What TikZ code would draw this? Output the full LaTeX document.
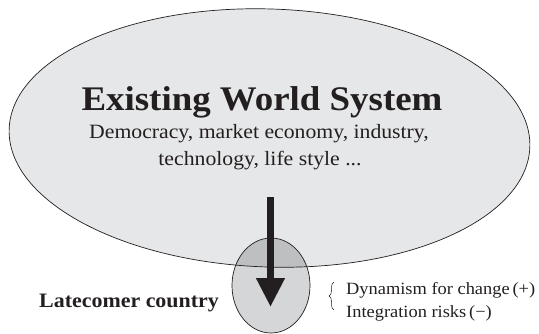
\documentclass[tikz,border=0pt]{standalone}
\usepackage{fontspec}
\setmainfont{Liberation Serif}[FakeStretch=1.07]
\usetikzlibrary{arrows.meta,decorations.pathreplacing}
\definecolor{bigfill}{RGB}{230,231,232}
\definecolor{smallfill}{RGB}{213,214,215}
\definecolor{overfill}{RGB}{190,191,192}
\definecolor{ink}{RGB}{35,31,32}
\tikzset{
  outline/.style={draw=ink, line width=0.7pt},
  txt/.style={inner sep=0pt, text=ink, anchor=base},
}
\begin{document}
\begin{tikzpicture}[x=1pt,y=-1pt]
\useasboundingbox (0,0) rectangle (539,333);
% big ellipse
\fill[bigfill] (269.5,138) ellipse[x radius=260.5, y radius=129, rotate=-2];
\fill[smallfill] (271,285.5) ellipse[x radius=39, y radius=47.5];
\begin{scope}
  \clip (269.5,138) ellipse[x radius=260.5, y radius=129, rotate=-2];
  \fill[overfill] (271,285.5) ellipse[x radius=39, y radius=47.5];
\end{scope}
\draw[outline] (269.5,138) ellipse[x radius=260.5, y radius=129, rotate=-2];
\draw[outline] (271,285.5) ellipse[x radius=39, y radius=47.5];
% texts
\node[txt] (title) at (262,110) {\fontsize{34.5}{40}\selectfont\bfseries Existing World System};
\node[txt] (sub1) at (259,138) {\fontsize{20.3}{24}\selectfont Democracy, market economy, industry,};
\node[txt] (sub2) at (260,165) {\fontsize{20.3}{24}\selectfont technology, life style ...};
\node[txt, anchor=base west] (late) at (39,307) {\fontsize{20.5}{24}\selectfont\bfseries Latecomer country};
\node[txt, anchor=base west] (dyn) at (346,294) {\fontsize{17.2}{20}\selectfont Dynamism for change\,(+)};
\node[txt, anchor=base west] (risk) at (346,317) {\fontsize{17.2}{20}\selectfont Integration risks\,(−)};
% arrow
\coordinate (astart) at (270.5,197);
\coordinate (aend) at (270.5,307);
\draw[ink, line width=7.5pt, -{Triangle[width=27pt,length=29pt]}] (astart) -- (aend);
% brace
\coordinate (bbot) at (334,310);
\coordinate (btop) at (334,282);
\draw[ink, line width=0.5pt, decorate, decoration={brace, amplitude=5pt}] (bbot) -- (btop);
\end{tikzpicture}
\end{document}
